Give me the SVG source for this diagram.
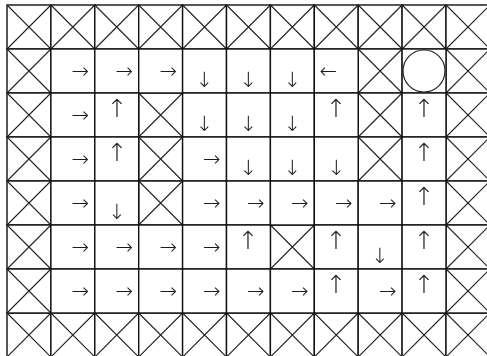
<svg xmlns="http://www.w3.org/2000/svg" width="487" height="356" viewBox="0 0 487 356">
<style>
rect.c{fill:#fff;stroke:#111;stroke-width:1.4}
.x{stroke:#222;stroke-width:1.1;fill:none}
text.a{font-family:"DejaVu Sans",sans-serif;font-weight:200;font-size:21px;fill:#1a1a1a}
#up text.a{font-size:25px}
circle.g{fill:none;stroke:#222;stroke-width:1.2}
</style>
<defs>
<filter id="gray" filterUnits="userSpaceOnUse" x="0" y="0" width="487" height="356"><feColorMatrix type="saturate" values="0"/></filter>
<g id="cellX"><rect class="c" x="0" y="0" width="43.9" height="44"/><path class="x" d="M0 0L43.9 44M43.9 0L0 44"/></g>
<g id="cellE"><rect class="c" x="0" y="0" width="43.9" height="44"/></g>
</defs>
<rect x="0" y="0" width="487" height="356" fill="#fff"/>
<g id="walls">
<g id="r0"><use href="#cellX" x="7" y="5"/><use href="#cellX" x="50.9" y="5"/><use href="#cellX" x="94.8" y="5"/><use href="#cellX" x="138.7" y="5"/><use href="#cellX" x="182.6" y="5"/><use href="#cellX" x="226.5" y="5"/><use href="#cellX" x="270.4" y="5"/><use href="#cellX" x="314.3" y="5"/><use href="#cellX" x="358.2" y="5"/><use href="#cellX" x="402.1" y="5"/><use href="#cellX" x="446" y="5"/></g>
<g id="r7"><use href="#cellX" x="7" y="313"/><use href="#cellX" x="50.9" y="313"/><use href="#cellX" x="94.8" y="313"/><use href="#cellX" x="138.7" y="313"/><use href="#cellX" x="182.6" y="313"/><use href="#cellX" x="226.5" y="313"/><use href="#cellX" x="270.4" y="313"/><use href="#cellX" x="314.3" y="313"/><use href="#cellX" x="358.2" y="313"/><use href="#cellX" x="402.1" y="313"/><use href="#cellX" x="446" y="313"/></g>
<g id="c0"><use href="#cellX" x="7" y="49"/><use href="#cellX" x="7" y="93"/><use href="#cellX" x="7" y="137"/><use href="#cellX" x="7" y="181"/><use href="#cellX" x="7" y="225"/><use href="#cellX" x="7" y="269"/></g>
<g id="c10"><use href="#cellX" x="446" y="49"/><use href="#cellX" x="446" y="93"/><use href="#cellX" x="446" y="137"/><use href="#cellX" x="446" y="181"/><use href="#cellX" x="446" y="225"/><use href="#cellX" x="446" y="269"/></g>
<g id="inner-walls"><use href="#cellX" x="138.7" y="93"/><use href="#cellX" x="138.7" y="137"/><use href="#cellX" x="138.7" y="181"/><use href="#cellX" x="358.2" y="49"/><use href="#cellX" x="358.2" y="93"/><use href="#cellX" x="358.2" y="137"/><use href="#cellX" x="270.4" y="225"/></g>
</g>
<g id="cells">
<g id="row1"><use href="#cellE" x="50.9" y="49"/><use href="#cellE" x="94.8" y="49"/><use href="#cellE" x="138.7" y="49"/><use href="#cellE" x="182.6" y="49"/><use href="#cellE" x="226.5" y="49"/><use href="#cellE" x="270.4" y="49"/><use href="#cellE" x="314.3" y="49"/><use href="#cellE" x="402.1" y="49"/></g>
<g id="row2"><use href="#cellE" x="50.9" y="93"/><use href="#cellE" x="94.8" y="93"/><use href="#cellE" x="182.6" y="93"/><use href="#cellE" x="226.5" y="93"/><use href="#cellE" x="270.4" y="93"/><use href="#cellE" x="314.3" y="93"/><use href="#cellE" x="402.1" y="93"/></g>
<g id="row3"><use href="#cellE" x="50.9" y="137"/><use href="#cellE" x="94.8" y="137"/><use href="#cellE" x="182.6" y="137"/><use href="#cellE" x="226.5" y="137"/><use href="#cellE" x="270.4" y="137"/><use href="#cellE" x="314.3" y="137"/><use href="#cellE" x="402.1" y="137"/></g>
<g id="row4"><use href="#cellE" x="50.9" y="181"/><use href="#cellE" x="94.8" y="181"/><use href="#cellE" x="182.6" y="181"/><use href="#cellE" x="226.5" y="181"/><use href="#cellE" x="270.4" y="181"/><use href="#cellE" x="314.3" y="181"/><use href="#cellE" x="358.2" y="181"/><use href="#cellE" x="402.1" y="181"/></g>
<g id="row5"><use href="#cellE" x="50.9" y="225"/><use href="#cellE" x="94.8" y="225"/><use href="#cellE" x="138.7" y="225"/><use href="#cellE" x="182.6" y="225"/><use href="#cellE" x="226.5" y="225"/><use href="#cellE" x="314.3" y="225"/><use href="#cellE" x="358.2" y="225"/><use href="#cellE" x="402.1" y="225"/></g>
<g id="row6"><use href="#cellE" x="50.9" y="269"/><use href="#cellE" x="94.8" y="269"/><use href="#cellE" x="138.7" y="269"/><use href="#cellE" x="182.6" y="269"/><use href="#cellE" x="226.5" y="269"/><use href="#cellE" x="270.4" y="269"/><use href="#cellE" x="314.3" y="269"/><use href="#cellE" x="358.2" y="269"/><use href="#cellE" x="402.1" y="269"/></g>
</g>
<g id="goal"><circle class="g" cx="424" cy="71" r="21"/></g>
<g id="arrows" filter="url(#gray)">
<g id="right">
<text class="a" x="71.5" y="77.5">→</text><text class="a" x="115.5" y="77.5">→</text><text class="a" x="159.5" y="77.5">→</text>
<text class="a" x="71.5" y="121.5">→</text>
<text class="a" x="71.5" y="165.5">→</text><text class="a" x="203" y="165.5">→</text>
<text class="a" x="71.5" y="209.5">→</text><text class="a" x="203" y="209.5">→</text><text class="a" x="247" y="209.5">→</text><text class="a" x="291" y="209.5">→</text><text class="a" x="335" y="209.5">→</text><text class="a" x="379" y="209.5">→</text>
<text class="a" x="71.5" y="253.5">→</text><text class="a" x="115.5" y="253.5">→</text><text class="a" x="159.5" y="253.5">→</text><text class="a" x="203" y="253.5">→</text>
<text class="a" x="71.5" y="297.5">→</text><text class="a" x="115.5" y="297.5">→</text><text class="a" x="159.5" y="297.5">→</text><text class="a" x="203" y="297.5">→</text><text class="a" x="247" y="297.5">→</text><text class="a" x="291" y="297.5">→</text><text class="a" x="379" y="297.5">→</text>
</g>
<g id="left" text-anchor="end"><text class="a" x="337" y="77.5">←</text></g>
<g id="up" text-anchor="middle">
<text class="a" x="117" y="117">↑</text><text class="a" x="336" y="117">↑</text><text class="a" x="424" y="117">↑</text>
<text class="a" x="117" y="161">↑</text><text class="a" x="424" y="161">↑</text>
<text class="a" x="424" y="205">↑</text>
<text class="a" x="248" y="249">↑</text><text class="a" x="336" y="249">↑</text><text class="a" x="424" y="249">↑</text>
<text class="a" x="336" y="293">↑</text><text class="a" x="424" y="293">↑</text>
</g>
<g id="down" text-anchor="middle">
<text class="a" x="204.5" y="87">↓</text><text class="a" x="248.5" y="87">↓</text><text class="a" x="292.5" y="87">↓</text>
<text class="a" x="204.5" y="131">↓</text><text class="a" x="248.5" y="131">↓</text><text class="a" x="292.5" y="131">↓</text>
<text class="a" x="248.5" y="175">↓</text><text class="a" x="292.5" y="175">↓</text><text class="a" x="336.5" y="175">↓</text>
<text class="a" x="117" y="219">↓</text>
<text class="a" x="380" y="263">↓</text>
</g>
</g>
</svg>
